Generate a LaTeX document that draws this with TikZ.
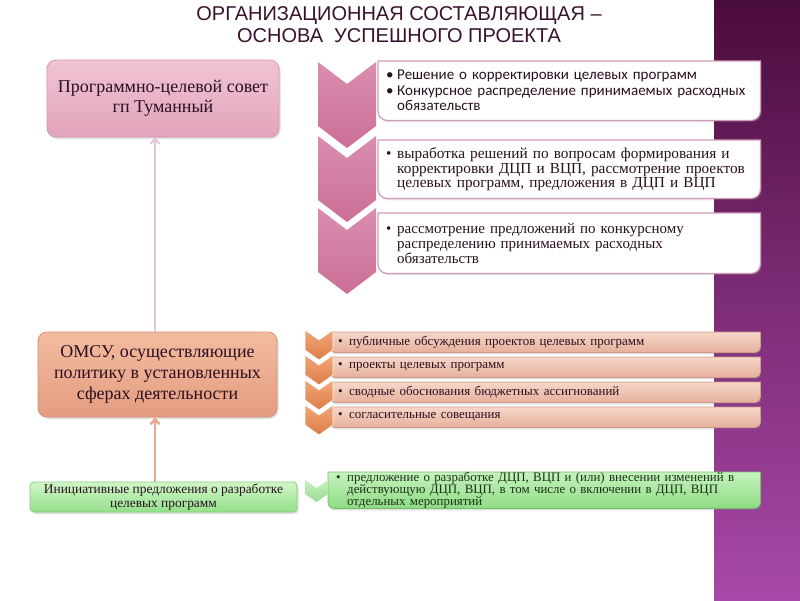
\documentclass[tikz,border=0pt]{standalone}
\usepackage{fontspec}
\setmainfont{Liberation Serif}
\newfontfamily\titlefont{Liberation Sans}
\newfontfamily\calfont{Carlito}
\usetikzlibrary{shadows,backgrounds,calc,arrows.meta}
\definecolor{purpTop}{HTML}{4A0C3C}
\definecolor{purpMid}{HTML}{7D2C76}
\definecolor{purpBot}{HTML}{A848A8}
\definecolor{titleC}{HTML}{38122F}
\definecolor{councilTop}{HTML}{F0C4D5}
\definecolor{councilBot}{HTML}{E2A3BB}
\definecolor{councilBd}{HTML}{D597AF}
\definecolor{arrowPink}{HTML}{E3C3DD}
\definecolor{omsuTop}{HTML}{F3BC9F}
\definecolor{omsuBot}{HTML}{E49C80}
\definecolor{omsuBd}{HTML}{D49078}
\definecolor{arrowPeach}{HTML}{E8A890}
\definecolor{greenTop}{HTML}{D0F7C8}
\definecolor{greenBot}{HTML}{94E08A}
\definecolor{greenBd}{HTML}{88CC80}
\definecolor{chevTop}{HTML}{DA8EAF}
\definecolor{chevBot}{HTML}{CC6E96}
\definecolor{wboxBd}{HTML}{D29CB6}
\definecolor{barTop}{HTML}{F6D6C8}
\definecolor{barBot}{HTML}{E6B09C}
\definecolor{barBd}{HTML}{CF9A88}
\definecolor{ochevTop}{HTML}{F2A878}
\definecolor{ochevBot}{HTML}{DC7C48}
\definecolor{gbarTop}{HTML}{C6F3BE}
\definecolor{gbarBot}{HTML}{8EDC84}
\definecolor{gbarBd}{HTML}{78C070}
\definecolor{gchevTop}{HTML}{C8EFC0}
\definecolor{gchevBot}{HTML}{98DC90}
\definecolor{txtDark}{HTML}{2A1020}
\definecolor{txtGreen}{HTML}{1C3018}
\newcommand\mychev[6]{%
  \path[#6] (#1,#2) -- ++({#3/2},{#5}) -- ++({#3/2},{-#5}) -- ++(0,{#4-#5})
    -- ++({-#3/2},{#5}) -- ++({-#3/2},{-#5}) -- cycle;}
\newcommand\rightround[3]{%
  \begin{scope}[on background layer]
  \draw[#2] (#1.north west) -- (#1.north east) [rounded corners=#3] -- (#1.south east)
    -- (#1.south west) [sharp corners] -- cycle;
  \end{scope}}
\tikzset{
  mainbox/.style={draw, rounded corners=9pt, line width=0.8pt, align=center,
    text=txtDark, drop shadow={shadow xshift=1.5pt, shadow yshift=-2pt, opacity=0.25}},
  council/.style={mainbox, top color=councilTop, bottom color=councilBot, draw=councilBd,
    minimum width=232pt, minimum height=77pt, font=\fontsize{18}{20}\selectfont},
  omsu/.style={mainbox, top color=omsuTop, bottom color=omsuBot, draw=omsuBd,
    minimum width=239pt, minimum height=85pt, font=\fontsize{18}{21}\selectfont},
  initbox/.style={mainbox, rounded corners=4pt, top color=greenTop, bottom color=greenBot, draw=greenBd,
    minimum width=267pt, minimum height=30pt, font=\fontsize{13.4}{14.5}\selectfont, inner sep=0pt},
  uparrow/.style={line width=2pt, -{Straight Barb[length=5pt,width=9pt]}},
  wtext/.style={anchor=north west, inner xsep=8pt, inner ysep=0pt, align=left, text=txtDark},
  wbg/.style={fill=white, draw=wboxBd, line width=1.2pt,
    drop shadow={shadow xshift=1.5pt, shadow yshift=-2pt, opacity=0.2}},
  bartext/.style={anchor=north west, inner xsep=8pt, inner ysep=0pt, align=left, text=txtDark,
    font=\fontsize{13}{13}\selectfont, minimum height=20pt, text width=414pt},
  barbg/.style={top color=barTop, bottom color=barBot, draw=barBd, line width=0.8pt,
    drop shadow={shadow xshift=1pt, shadow yshift=-2pt, opacity=0.25}},
  gbarbg/.style={top color=gbarTop, bottom color=gbarBot, draw=gbarBd, line width=0.8pt,
    drop shadow={shadow xshift=1pt, shadow yshift=-2pt, opacity=0.25}},
  pinkchev/.style={top color=chevTop, bottom color=chevBot},
  orangechev/.style={top color=ochevTop, bottom color=ochevBot, draw=white, line width=0.6pt},
  greenchev/.style={top color=gchevTop, bottom color=gchevBot},
}
\newcommand\bul{\makebox[11pt][l]{•}}
\begin{document}
\begin{tikzpicture}[x=1pt,y=-1pt]
\useasboundingbox (0,0) rectangle (800,600);
\begin{scope}[on background layer]
\fill[white] (0,0) rectangle (800,600);
\shade[top color=purpTop, bottom color=purpBot, middle color=purpMid] (714,0) rectangle (800,600);
\end{scope}

% title
\node[font=\titlefont\fontsize{20}{22}\selectfont, text=titleC, align=center] (title) at (399,24.5)
  {ОРГАНИЗАЦИОННАЯ СОСТАВЛЯЮЩАЯ –\\ОСНОВА\ \ УСПЕШНОГО ПРОЕКТА};

% left column
\node[council] (council) at (163,98.5) {Программно-целевой совет\\гп Туманный};
\node[omsu] (omsu) at (157.5,374.5) {ОМСУ, осуществляющие\\политику в установленных\\сферах деятельности};
\node[initbox] (init) at (163.5,497) {Инициативные предложения о разработке\\целевых программ};
\coordinate (ax) at (155,0);
\draw[uparrow, arrowPink] (omsu.north -| ax) -- (council.south -| ax);
\draw[uparrow, arrowPeach, line width=2.5pt] (init.north -| ax) -- (omsu.south -| ax);

% top right: white boxes
\node[wtext, font=\calfont\fontsize{15}{15.5}\selectfont, minimum width=382pt, minimum height=59pt, text width=366pt] (w1) at (378,61)
  {\bul Решение о корректировки целевых программ\\\bul Конкурсное распределение принимаемых расходных\\\hspace*{11pt}обязательств};
\node[wtext, font=\fontsize{15.3}{14.5}\selectfont, minimum width=382pt, minimum height=58pt, text width=366pt] (w2) at (378,140)
  {\bul выработка решений по вопросам формирования и\\\hspace*{11pt}корректировки ДЦП и ВЦП, рассмотрение проектов\\\hspace*{11pt}целевых программ, предложения в ДЦП и ВЦП};
\node[wtext, font=\fontsize{15}{15}\selectfont, minimum width=382pt, minimum height=60pt, text width=366pt] (w3) at (378,213)
  {\bul рассмотрение предложений по конкурсному\\\hspace*{11pt}распределению принимаемых расходных\\\hspace*{11pt}обязательств};
\rightround{w1}{wbg}{9pt}
\rightround{w2}{wbg}{9pt}
\rightround{w3}{wbg}{9pt}
\mychev{318}{62}{58}{86}{22}{pinkchev}
\mychev{318}{136}{58}{86}{22}{pinkchev}
\mychev{318}{208}{58}{86}{22}{pinkchev}

% middle right: peach bars
\node[bartext] (p1) at (330,332) {\bul публичные обсуждения проектов целевых программ};
\node[bartext] (p2) at (330,357) {\bul проекты целевых программ};
\node[bartext] (p3) at (330,382) {\bul сводные обоснования бюджетных ассигнований};
\node[bartext] (p4) at (330,407) {\bul согласительные совещания};
\rightround{p1}{barbg}{5pt}
\rightround{p2}{barbg}{5pt}
\rightround{p3}{barbg}{5pt}
\rightround{p4}{barbg}{5pt}
\mychev{305}{330}{28}{30}{10}{orangechev}
\mychev{305}{355}{28}{30}{10}{orangechev}
\mychev{305}{380}{28}{30}{10}{orangechev}
\mychev{305}{405}{28}{30}{10}{orangechev}

% bottom right: green bar
\node[anchor=north west, inner xsep=8pt, inner ysep=0pt, align=left, text=txtGreen,
  font=\fontsize{12.9}{12}\selectfont, minimum height=32pt, text width=416pt] (g1) at (328,472)
  {\bul предложение о разработке ДЦП, ВЦП и (или) внесении изменений в\\\hspace*{11pt}действующую ДЦП, ВЦП, в том числе о включении в ДЦП, ВЦП\\\hspace*{11pt}отдельных мероприятий};
\rightround{g1}{gbarbg}{6pt}
\mychev{305}{480}{23}{22}{8}{greenchev}
\end{tikzpicture}
\end{document}
